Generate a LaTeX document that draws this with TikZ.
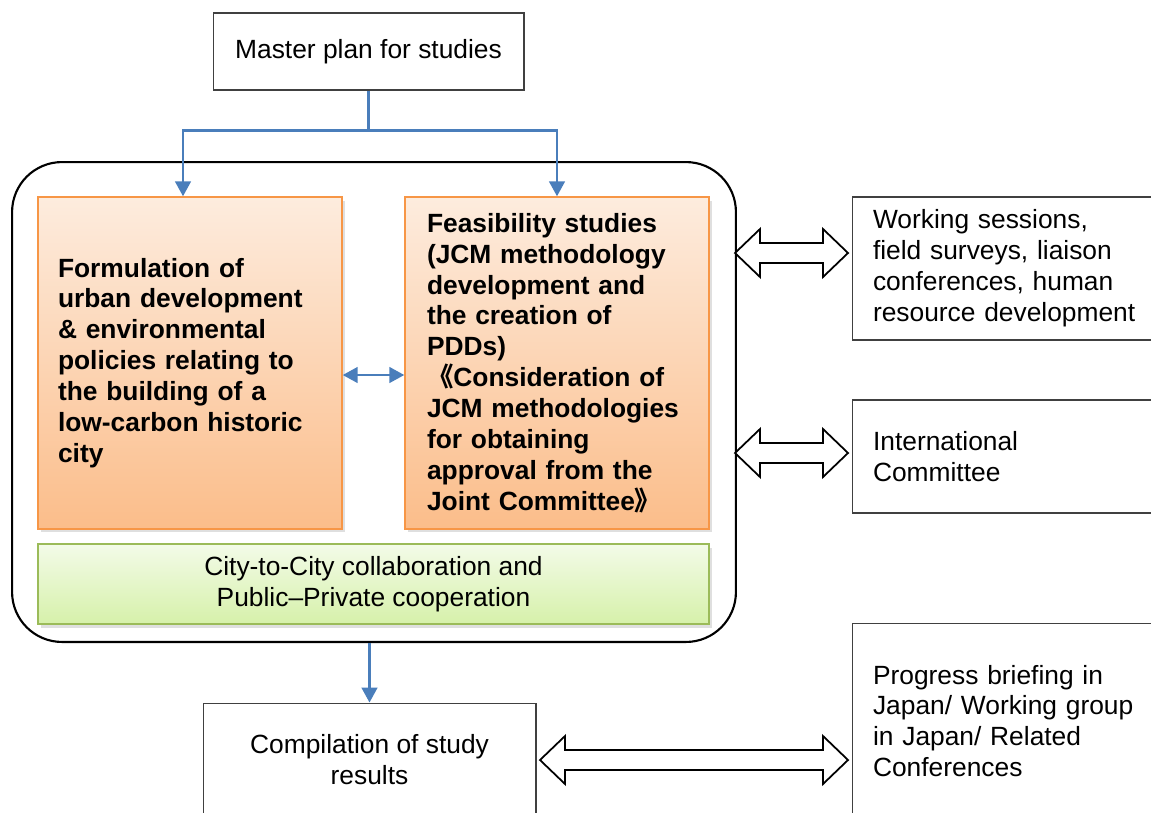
\documentclass[tikz,border=0pt]{standalone}
\usepackage{fontspec}
\setmainfont{Liberation Sans}
\newfontfamily\cjkfont{Noto Sans CJK JP}
\usetikzlibrary{arrows.meta,calc,positioning,shadows}
\definecolor{flowblue}{RGB}{74,126,187}
\definecolor{orTop}{RGB}{253,236,222}
\definecolor{orBot}{RGB}{251,189,138}
\definecolor{orLine}{RGB}{247,150,70}
\definecolor{grTop}{RGB}{243,251,232}
\definecolor{grBot}{RGB}{214,241,170}
\definecolor{grLine}{RGB}{155,187,89}
% hollow two-headed arrow between two points on one level
\newcommand{\fatarrow}[2]{%
\draw[fat] (#1) -- ++(25,24) -- ++(0,-14) -- ($(#2)+(-25,10)$) -- ++(0,14) -- (#2)
  -- ++(-25,-24) -- ++(0,14) -- ($(#1)+(25,-10)$) -- ++(0,-14) -- cycle;}

\begin{document}
\begin{tikzpicture}[x=0.02cm,y=-0.02cm,
  every node/.style={font=\fontsize{15}{17.6}\selectfont,inner sep=0pt},
  plainbox/.style={draw=black!75,line width=0.6pt},
  orangebox/.style={draw=orLine,line width=0.9pt,top color=orTop,bottom color=orBot,
    drop shadow={shadow xshift=1.5pt,shadow yshift=-2pt,opacity=0.25},
    minimum width=6.08cm,minimum height=6.64cm,align=left,font=\fontsize{15}{17.6}\selectfont\bfseries},
  greenbox/.style={draw=grLine,line width=0.9pt,top color=grTop,bottom color=grBot,
    drop shadow={shadow xshift=1.5pt,shadow yshift=-2pt,opacity=0.25}},
  flow/.style={draw=flowblue,line width=1.2pt,>={Triangle[length=8.5pt,width=9pt]}},
  fat/.style={draw=black,line width=1pt,fill=white,line join=miter}]
\useasboundingbox (0,0) rectangle (1151,812);
\clip (0,0) rectangle (1151,812);

\node[plainbox,minimum width=6.22cm,minimum height=1.54cm] (master) at (368.5,51.5) {Master plan for studies};

\node[draw,line width=1.2pt,rounded corners=1cm,minimum width=14.48cm,minimum height=9.6cm] (big) at (374,402) {};

\node[orangebox,text width=5.28cm] (policy) at (190,363) {Formulation of\\urban development\\\& environmental\\policies relating to\\the building of a\\low-carbon historic\\city};
\node[orangebox,text width=5.2cm] (fs) at (557,363) {Feasibility studies\\(JCM methodology\\development and\\the creation of\\PDDs)\\{\cjkfont 《}Consideration of\\JCM methodologies\\for obtaining\\approval from the\\Joint Committee{\cjkfont 》}};

\node[greenbox,minimum width=13.42cm,minimum height=1.6cm,align=center] (collab) at (373.5,584) {City-to-City collaboration and\\Public--Private cooperation};

\node[plainbox,minimum width=6.66cm,minimum height=2.28cm,align=center] (compile) at (369.5,760) {Compilation of study\\results};

\node[plainbox,minimum width=6.56cm,minimum height=2.86cm,text width=5.72cm,align=left] (sessions) at (1016,268.5) {Working sessions,\\field surveys, liaison\\conferences, human\\resource development};
\node[plainbox,minimum width=6.56cm,minimum height=2.26cm,text width=5.72cm,align=left] (intl) at (1016,456.5) {International\\Committee};
\node[plainbox,minimum width=6.56cm,minimum height=3.92cm,text width=5.72cm,align=left] (briefing) at (1016,721) {Progress briefing in\\Japan/ Working group\\in Japan/ Related\\Conferences};

% blue connectors
\coordinate (split) at ($(master.south)+(0,40)$);
\draw[flow] (master.south) -- (split);
\draw[flow,->] (split) -| ([xshift=-0.14cm]policy.north);
\draw[flow,->] (split) -| (fs.north);
\draw[flow,<->] ([yshift=-0.24cm]policy.east) -- ([yshift=-0.24cm]fs.west);
\draw[flow,->] (big.south -| compile.north) -- (compile.north);

% hollow arrows
\coordinate (a1l) at (735,253);
\coordinate (a1r) at (848,253);
\coordinate (a2l) at (735,453);
\coordinate (a2r) at (848,453);
\coordinate (a3l) at (540,760);
\coordinate (a3r) at (848,760);
\fatarrow{a1l}{a1r}
\fatarrow{a2l}{a2r}
\fatarrow{a3l}{a3r}
\end{tikzpicture}
\end{document}
